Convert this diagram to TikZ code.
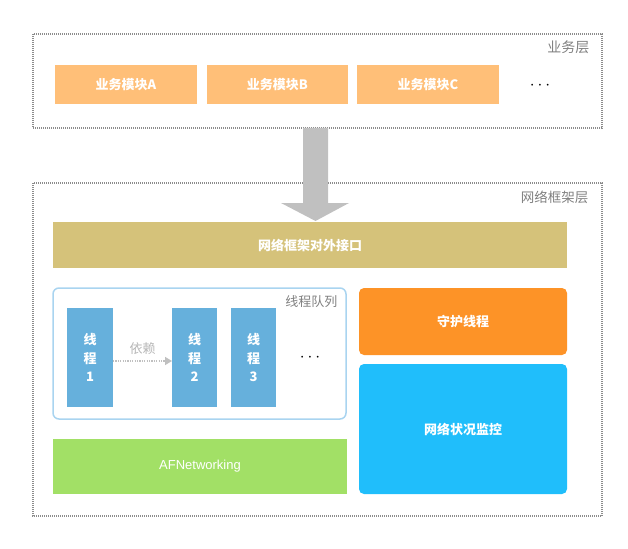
\documentclass[tikz,border=0pt]{standalone}
\usepackage{fontspec}
\setmainfont{Noto Sans CJK SC}
\newfontfamily\latinfont{Liberation Sans}
\usetikzlibrary{arrows.meta}
\definecolor{modc}{HTML}{FFBF78}
\definecolor{tanc}{HTML}{D5C27A}
\definecolor{thrc}{HTML}{66B0DC}
\definecolor{grnc}{HTML}{A2E066}
\definecolor{orgc}{HTML}{FD9327}
\definecolor{cync}{HTML}{20BEFB}
\definecolor{qbord}{HTML}{A9D4F0}
\definecolor{lblc}{HTML}{808080}
\definecolor{arrc}{HTML}{C0C0C0}
\definecolor{dotc}{HTML}{8C8C8C}
\begin{document}
\begin{tikzpicture}[x=1pt,y=-1pt,
  layerbox/.style={draw=dotc, line width=1.5pt, dash pattern=on 1pt off 1pt},
  boxtext/.style={text=white, font=\fontsize{13}{15}\selectfont\bfseries},
  lbl/.style={text=lblc, font=\fontsize{13.5}{15}\selectfont},
  fillbox/.style={inner sep=0pt, outer sep=0pt, boxtext},
  thr/.style={fillbox, fill=thrc, minimum height=99pt, align=center, font=\fontsize{13}{18.5}\selectfont\bfseries},
  dots/.style={font=\fontsize{19}{19}\selectfont}
]
\useasboundingbox (0,0) rectangle (628,548);
% layers
\draw[layerbox] (33,34) rectangle (602,128);
\node[lbl, anchor=east, font=\fontsize{14}{15}\selectfont] (l1) at (593,47) {业务层};
\draw[layerbox] (33,183) rectangle (602,516);
\node[lbl, anchor=east] (l2) at (592,197) {网络框架层};
% modules
\node[fillbox, fill=modc, minimum width=142pt, minimum height=39pt] (ma) at (126,84.5) {业务模块A};
\node[fillbox, fill=modc, minimum width=141pt, minimum height=39pt] (mb) at (277.5,84.5) {业务模块B};
\node[fillbox, fill=modc, minimum width=142pt, minimum height=39pt] (mc) at (428,84.5) {业务模块C};
\node[dots] (md) at (540,86) {$\cdots$};
% big arrow
\fill[arrc] (303,128) -- (328,128) -- (328,203) -- (349,203) -- (315.5,221) -- (281,203) -- (303,203) -- cycle;
% interface
\node[fillbox, fill=tanc, minimum width=514pt, minimum height=46pt] (iface) at (310,245) {网络框架对外接口};
% queue
\draw[qbord, line width=1.5pt, rounded corners=6pt] (53,288) rectangle (346,419);
\node[lbl, anchor=east, font=\fontsize{13}{15}\selectfont] (ql) at (341,302) {线程队列};
\node[thr, minimum width=46pt] (t1) at (90,357.5) {线\\程\\1};
\node[thr, minimum width=45pt] (t2) at (194.5,357.5) {线\\程\\2};
\node[thr, minimum width=45pt] (t3) at (253.5,357.5) {线\\程\\3};
\draw[arrc, line width=1.5pt, dash pattern=on 1.2pt off 1.2pt, -{Triangle[length=7pt,width=8pt]}] (t1.east |- 0,361) -- (t2.west |- 0,361) node[midway, above=2pt, text=arrc!85!gray, font=\fontsize{13}{15}\selectfont] (dep) {依赖};
\node[dots] (td) at (310,358) {$\cdots$};
% AFNetworking
\node[fillbox, fill=grnc, minimum width=294pt, minimum height=55pt, font=\latinfont\fontsize{13}{15}\selectfont] (af) at (200,466.5) {AFNetworking};
% right
\node[fillbox, fill=orgc, rounded corners=5pt, minimum width=208pt, minimum height=67pt] (guard) at (463,321.5) {守护线程};
\node[fillbox, fill=cync, rounded corners=5pt, minimum width=208pt, minimum height=130pt] (mon) at (463,429) {网络状况监控};
\end{tikzpicture}
\end{document}
